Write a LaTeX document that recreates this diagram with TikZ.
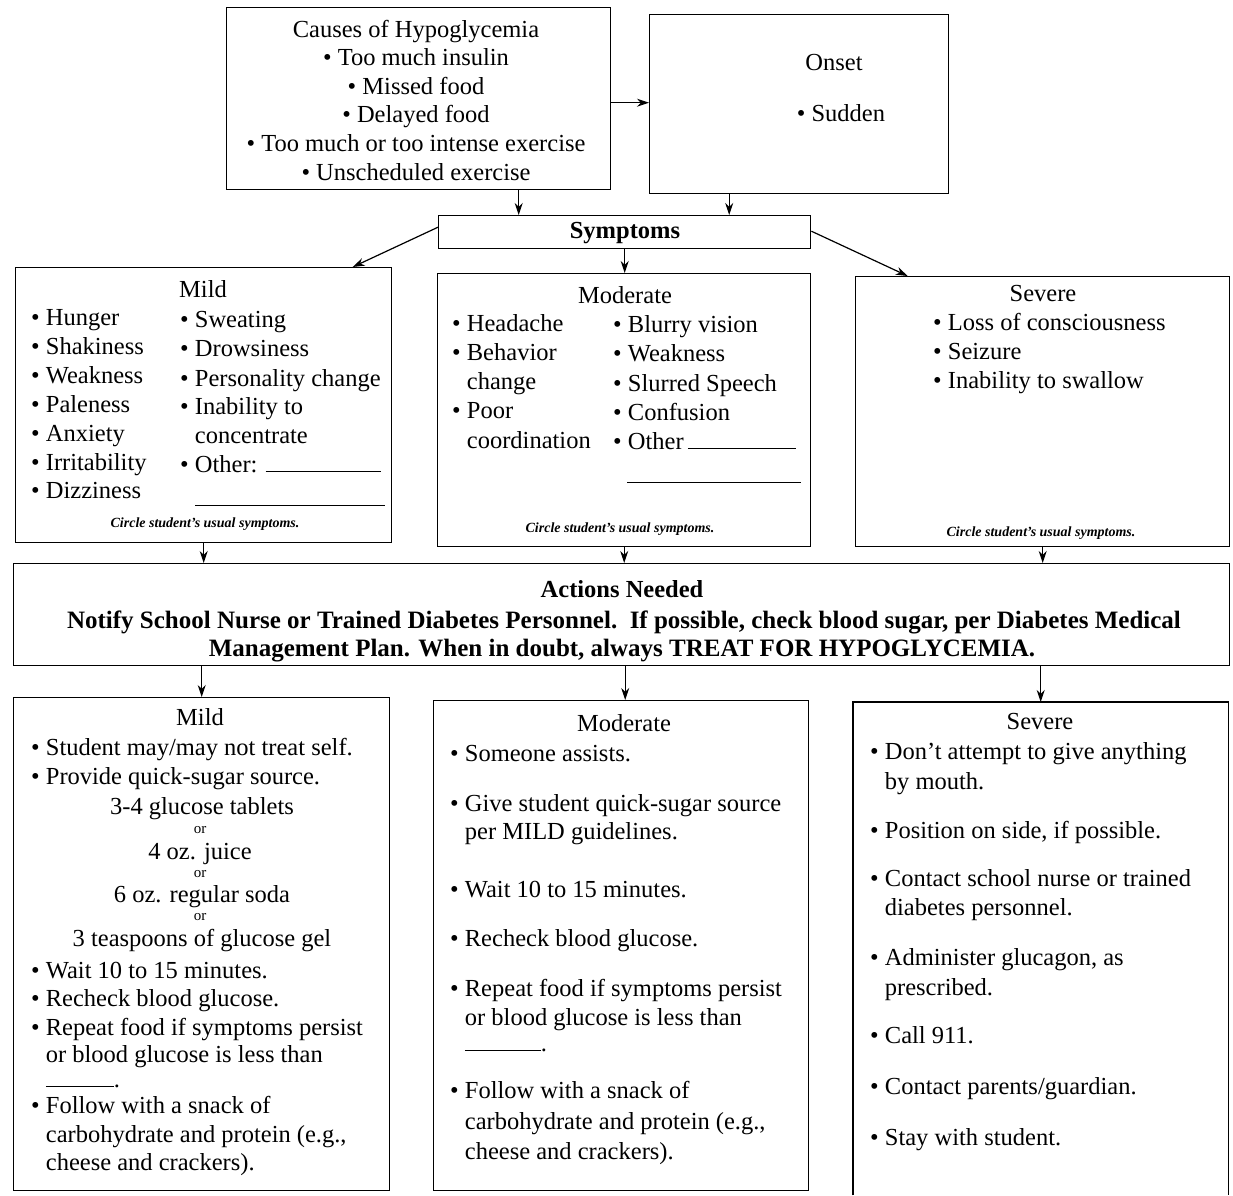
\documentclass[tikz,border=0pt]{standalone}
\usepackage{fontspec}
\setmainfont{Liberation Serif}
\usetikzlibrary{arrows.meta}
\begin{document}
\begin{tikzpicture}[x=1pt,y=-1pt,
  box/.style={draw, line width=1.4pt, inner sep=0pt, anchor=north west},
  openbox/.style={inner sep=0pt, anchor=north west},
  arr/.style={line width=1.2pt, -{Stealth[length=12pt,width=8pt]}},
  txt/.style={inner sep=0pt, font=\fontsize{24.5}{29}\selectfont},
  lt/.style={txt, anchor=base west, yshift=-8pt},
  ct/.style={txt, anchor=base, yshift=-8pt},
  bt/.style={inner sep=0pt, anchor=base, yshift=-8pt, font=\fontsize{24.5}{29}\selectfont\bfseries},
  note/.style={inner sep=0pt, anchor=base, yshift=-4pt, font=\fontsize{14}{16}\selectfont\bfseries\itshape},
  orw/.style={inner sep=0pt, anchor=base, yshift=-4pt, font=\fontsize{15}{16}\selectfont},
  blank/.style={line width=0.9pt}]
\path[use as bounding box, fill=white] (0,0) rectangle (1233,1195);

% ---------- boxes ----------
\node[box, minimum width=384pt, minimum height=182pt] (causes) at (226,7) {};
\node[box, minimum width=299pt, minimum height=179pt] (onset) at (649,14) {};
\node[box, minimum width=372pt, minimum height=33pt] (symp) at (438,215) {};
\node[box, minimum width=376pt, minimum height=275pt] (mildS) at (15,267) {};
\node[box, minimum width=373pt, minimum height=273pt] (modS) at (437,273) {};
\node[box, minimum width=374pt, minimum height=270pt] (sevS) at (855,276) {};
\node[box, minimum width=1216pt, minimum height=102pt] (act) at (13,563) {};
\node[box, minimum width=376pt, minimum height=493pt] (mildA) at (13,697) {};
\node[box, minimum width=375pt, minimum height=490pt] (modA) at (433,700) {};
\node[openbox, minimum width=375pt, minimum height=493pt] (sevA) at (853,702) {};
\draw[line width=1.4pt] (sevA.south west) -- (sevA.north west) -- (sevA.north east) -- (sevA.south east);

% ---------- connectors ----------
\draw[arr] ([yshift=-4pt]causes.east) -- ([yshift=-4pt]causes.east -| onset.west);
\draw[arr] ([xshift=100pt]causes.south) -- ([xshift=100pt]causes.south |- symp.north);
\draw[arr] ([xshift=-70pt]onset.south) -- ([xshift=-70pt]onset.south |- symp.north);
\draw[arr] ([yshift=5pt]symp.west) -- ([xshift=149pt]mildS.north);
\draw[arr] (symp.south) -- (symp.south |- modS.north);
\draw[arr] ([yshift=1pt]symp.east) -- ([xshift=-135pt]sevS.north);
\draw[arr] (mildS.south) -- (mildS.south |- act.north);
\draw[arr] (modS.south) -- (modS.south |- act.north);
\draw[arr] (sevS.south) -- (sevS.south |- act.north);
\draw[arr] (mildA.north |- act.south) -- (mildA.north);
\draw[arr] ([xshift=4pt]modA.north |- act.south) -- ([xshift=4pt]modA.north);
\draw[arr] (sevA.north |- act.south) -- (sevA.north);

% ---------- causes / onset / symptoms ----------
\node[txt, align=center, font=\fontsize{24.5}{28.6}\selectfont] (causesT) at (416,100)
  {Causes of Hypoglycemia\\ • Too much insulin\\ • Missed food\\ • Delayed food\\
   • Too much or too intense exercise\\ • Unscheduled exercise};
\node[ct] (onsetT) at (834,62) {Onset};
\node[ct] (onsetS) at (841,113) {• Sudden};
\node[bt] (sympT) at (625,230) {Symptoms};

% ---------- mild symptoms ----------
\node[ct] (msH) at (203,289) {Mild};
\foreach \yy/\ss [count=\i] in {317/Hunger, 346/Shakiness, 375/Weakness, 404/Paleness,
    433/Anxiety, 462/Irritability, 490/Dizziness}
  \node[lt] (msl\i) at (31,\yy) {• \ss};
\foreach \yy/\ss [count=\i] in {319/{• Sweating}, 348/{• Drowsiness}, 378/{• Personality change},
    406/{• Inability to}, 435/{\hphantom{• }concentrate}, 464/{• Other: \rule{115pt}{0.8pt}}}
  \node[lt] (msr\i) at (180,\yy) {\ss};
\draw[blank] (195,505) -- (385,505);
\node[note] (msN) at (205,523) {Circle student’s usual symptoms.};

% ---------- moderate symptoms ----------
\node[ct] (dsH) at (625,295) {Moderate};
\foreach \yy/\ss [count=\i] in {323/{• Headache}, 352/{• Behavior}, 381/{\hphantom{• }change},
    410/{• Poor}, 440/{\hphantom{• }coordination}}
  \node[lt] (dsl\i) at (452,\yy) {\ss};
\foreach \yy/\ss [count=\i] in {324/{• Blurry vision}, 353/{• Weakness}, 383/{• Slurred Speech},
    412/{• Confusion}, 441/{• Other\,\rule{108pt}{0.8pt}}}
  \node[lt] (dsr\i) at (613,\yy) {\ss};
\draw[blank] (627,482) -- (801,482);
\node[note] (dsN) at (620,528) {Circle student’s usual symptoms.};

% ---------- severe symptoms ----------
\node[ct] (ssH) at (1043,293) {Severe};
\foreach \yy/\ss [count=\i] in {322/{Loss of consciousness}, 351/{Seizure}, 380/{Inability to swallow}}
  \node[lt] (ss\i) at (933,\yy) {• \ss};
\node[note] (ssN) at (1041,532) {Circle student’s usual symptoms.};

% ---------- actions ----------
\node[bt] (actH) at (622,589) {Actions Needed};
\node[bt, font=\fontsize{25}{29}\selectfont\bfseries] (act1) at (624,620) {Notify School Nurse or Trained Diabetes Personnel.\ \ If possible, check blood sugar, per Diabetes Medical};
\node[bt, font=\fontsize{25}{29}\selectfont\bfseries] (act2) at (622,648) {Management Plan. When in doubt, always TREAT FOR HYPOGLYCEMIA.};

% ---------- mild actions ----------
\node[ct] (maH) at (200,717) {Mild};
\foreach \yy/\ss [count=\i] in {747/{• Student may/may not treat self.}, 776/{• Provide quick-sugar source.},
    970/{• Wait 10 to 15 minutes.}, 998/{• Recheck blood glucose.},
    1027/{• Repeat food if symptoms persist}, 1054/{\hphantom{• }or blood glucose is less than},
    1079/{\hphantom{• }\rule{68pt}{0.8pt}.}, 1105/{• Follow with a snack of},
    1134/{\hphantom{• }carbohydrate and protein (e.g.,}, 1162/{\hphantom{• }cheese and crackers).}}
  \node[lt] (mal\i) at (31,\yy) {\ss};
\node[ct] (mac1) at (202,806) {3-4 glucose tablets};
\node[orw] (mao1) at (200,829) {or};
\node[ct] (mac2) at (200,851) {4 oz. juice};
\node[orw] (mao2) at (200,873) {or};
\node[ct] (mac3) at (202,894) {6 oz. regular soda};
\node[orw] (mao3) at (200,916) {or};
\node[ct] (mac4) at (202,938) {3 teaspoons of glucose gel};

% ---------- moderate actions ----------
\node[ct] (daH) at (624,723) {Moderate};
\foreach \yy/\ss [count=\i] in {753/{• Someone assists.}, 803/{• Give student quick-sugar source},
    831/{\hphantom{• }per MILD guidelines.}, 889/{• Wait 10 to 15 minutes.},
    938/{• Recheck blood glucose.}, 988/{• Repeat food if symptoms persist},
    1017/{\hphantom{• }or blood glucose is less than}, 1043/{\hphantom{• }\rule{76pt}{0.8pt}.},
    1090/{• Follow with a snack of}, 1121/{\hphantom{• }carbohydrate and protein (e.g.,},
    1151/{\hphantom{• }cheese and crackers).}}
  \node[lt] (dal\i) at (450,\yy) {\ss};

% ---------- severe actions ----------
\node[ct] (saH) at (1040,721) {Severe};
\foreach \yy/\ss [count=\i] in {751/{• Don’t attempt to give anything}, 781/{\hphantom{• }by mouth.},
    830/{• Position on side, if possible.}, 878/{• Contact school nurse or trained},
    907/{\hphantom{• }diabetes personnel.}, 957/{• Administer glucagon, as},
    987/{\hphantom{• }prescribed.}, 1035/{• Call 911.}, 1086/{• Contact parents/guardian.},
    1137/{• Stay with student.}}
  \node[lt] (sal\i) at (870,\yy) {\ss};
\end{tikzpicture}
\end{document}
